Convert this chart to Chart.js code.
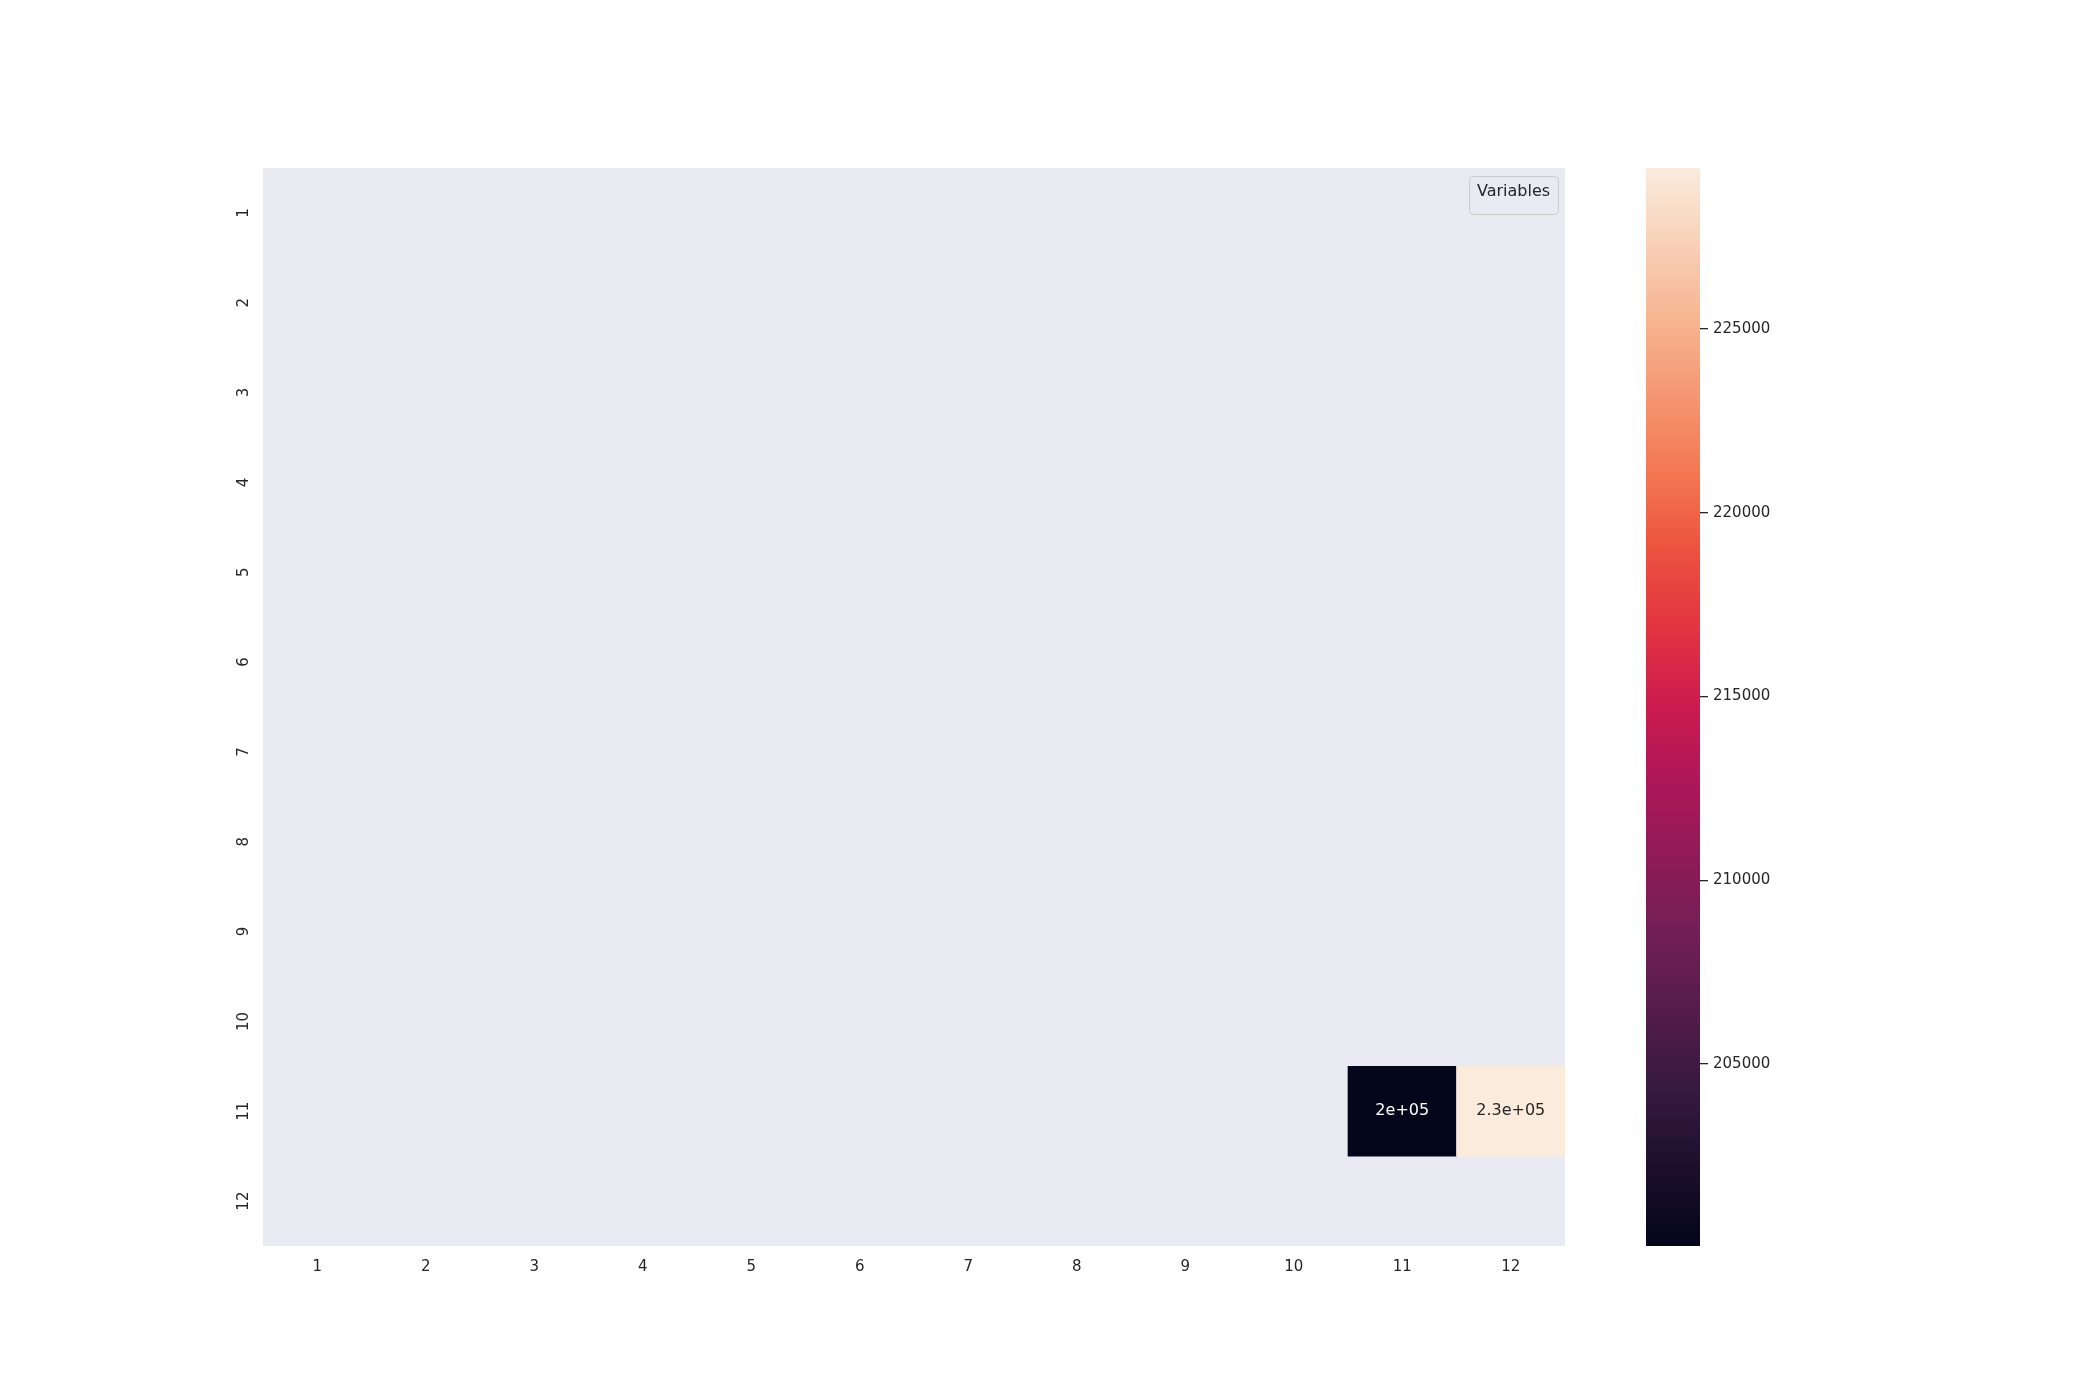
<!DOCTYPE html>
<html>
<head>
<meta charset="utf-8">
<script src="https://cdn.jsdelivr.net/npm/chart.js@4/dist/chart.umd.min.js"></script>
<style>
  html, body { margin: 0; padding: 0; background: #ffffff; }
  #wrap { position: relative; width: 2100px; height: 1400px; }
  #main { position: absolute; left: 0; top: 0; }
  #cbar { position: absolute; left: 1600px; top: 0; }
</style>
</head>
<body>
<div id="wrap">
  <canvas id="main" width="2100" height="1400"></canvas>
  <canvas id="cbar" width="300" height="1400"></canvas>
</div>
<script>
// ---- data ----
const colLabels = ['1','2','3','4','5','6','7','8','9','10','11','12'];
const rowLabels = ['1','2','3','4','5','6','7','8','9','10','11','12'];
const cellRows = ['11', '11'];
const cellCols = ['11', '12'];
const cellValues = [200050, 229380];
const colorbarTicks = [205000, 210000, 215000, 220000, 225000];
const legendTitle = 'Variables';

// ---- rocket colormap ----
const rocketStops = [
  [0.000, [3, 5, 26]],
  [0.143, [53, 25, 62]],
  [0.286, [112, 31, 87]],
  [0.429, [173, 23, 89]],
  [0.500, [203, 27, 79]],
  [0.571, [225, 51, 66]],
  [0.643, [236, 80, 63]],
  [0.714, [243, 118, 81]],
  [0.857, [246, 180, 143]],
  [1.000, [250, 235, 221]]
];
const vmin = Math.min(...cellValues);
const vmax = Math.max(...cellValues);
function rocket(t) {
  t = Math.max(0, Math.min(1, t));
  for (let i = 1; i < rocketStops.length; i++) {
    if (t <= rocketStops[i][0]) {
      const [t0, c0] = rocketStops[i - 1], [t1, c1] = rocketStops[i];
      const f = (t - t0) / (t1 - t0);
      return c0.map((v, k) => Math.round(v + (c1[k] - v) * f));
    }
  }
  return rocketStops[rocketStops.length - 1][1];
}
function colorFor(v) { const c = rocket((v - vmin) / (vmax - vmin)); return `rgb(${c[0]},${c[1]},${c[2]})`; }
function textColorFor(v) {
  const c = rocket((v - vmin) / (vmax - vmin));
  const lum = (0.2126 * c[0] + 0.7152 * c[1] + 0.0722 * c[2]) / 255;
  return lum > 0.408 ? '#262626' : '#ffffff';
}
function fmt2g(v) {
  const e = Math.floor(Math.log10(Math.abs(v)));
  if (e < -4 || e >= 2) {
    let m = (v / Math.pow(10, e)).toFixed(1);
    let ee = e;
    if (Math.abs(parseFloat(m)) >= 10) { m = (parseFloat(m) / 10).toFixed(1); ee += 1; }
    m = m.replace(/\.0$/, '');
    const sign = ee < 0 ? '-' : '+';
    const es = String(Math.abs(ee)).padStart(2, '0');
    return m + 'e' + sign + es;
  }
  return String(parseFloat(v.toPrecision(2)));
}

Chart.defaults.font.family = "'DejaVu Sans', sans-serif";
Chart.defaults.color = '#262626';

const cells = cellValues.map((v, i) => ({
  x: cellCols[i],
  y: [rowLabels.indexOf(cellRows[i]) + 0.5, rowLabels.indexOf(cellRows[i]) + 1.5],
  v: v
}));

const bgPlugin = {
  id: 'bg',
  beforeDatasetsDraw(chart) {
    const a = chart.chartArea, ctx = chart.ctx;
    ctx.save();
    ctx.fillStyle = '#EAEAF2';
    ctx.fillRect(a.left, a.top, a.right - a.left, a.bottom - a.top);
    ctx.restore();
  }
};
const annotPlugin = {
  id: 'annot',
  afterDatasetsDraw(chart) {
    const ctx = chart.ctx;
    const meta = chart.getDatasetMeta(0);
    ctx.save();
    ctx.font = "16px 'DejaVu Sans', sans-serif";
    ctx.textAlign = 'center';
    ctx.textBaseline = 'middle';
    meta.data.forEach((el, i) => {
      const v = chart.data.datasets[0].data[i].v;
      const p = el.getCenterPoint();
      ctx.fillStyle = textColorFor(v);
      ctx.fillText(fmt2g(v), p.x, p.y);
    });
    ctx.restore();
  }
};
const legendPlugin = {
  id: 'legendBox',
  afterDraw(chart) {
    const a = chart.chartArea, ctx = chart.ctx;
    const w = 89, h = 38;
    const x = a.right - 7 - w, y = a.top + 8;
    ctx.save();
    ctx.beginPath();
    ctx.roundRect(x + 0.5, y + 0.5, w, h, 4);
    ctx.fillStyle = 'rgba(234,234,242,0.8)';
    ctx.fill();
    ctx.strokeStyle = '#CCCCCC';
    ctx.lineWidth = 1;
    ctx.stroke();
    ctx.font = "16px 'DejaVu Sans', sans-serif";
    ctx.fillStyle = '#262626';
    ctx.textAlign = 'center';
    ctx.textBaseline = 'alphabetic';
    ctx.fillText(legendTitle, x + w / 2, y + 20);
    ctx.restore();
  }
};

new Chart(document.getElementById('main'), {
  type: 'bar',
  data: {
    labels: colLabels,
    datasets: [{
      data: cells,
      backgroundColor: ctx => colorFor(ctx.raw ? ctx.raw.v : vmin),
      borderWidth: 0,
      categoryPercentage: 1,
      barPercentage: 1
    }]
  },
  options: {
    responsive: false,
    animation: false,
    devicePixelRatio: 1,
    layout: { padding: { top: 168, right: 535, left: 0, bottom: 0 } },
    plugins: { legend: { display: false }, tooltip: { enabled: false } },
    scales: {
      x: {
        type: 'category',
        grid: { display: false },
        border: { display: false },
        ticks: { font: { size: 15 }, color: '#262626', padding: 4, maxRotation: 0, minRotation: 0 },
        afterFit: s => { s.height = 154; }
      },
      y: {
        type: 'linear',
        min: 0.5,
        max: 12.5,
        reverse: true,
        grid: { display: false },
        border: { display: false },
        afterBuildTicks: s => { s.ticks = rowLabels.map((l, i) => ({ value: i + 1 })); },
        ticks: {
          font: { size: 15 },
          color: '#262626',
          minRotation: 90,
          maxRotation: 90,
          crossAlign: 'center',
          padding: 1,
          callback: (v, i) => rowLabels[i]
        },
        afterFit: s => { s.width = 263; }
      }
    }
  },
  plugins: [bgPlugin, annotPlugin, legendPlugin]
});

// ---- colorbar ----
new Chart(document.getElementById('cbar'), {
  type: 'bar',
  data: {
    labels: [''],
    datasets: [{
      data: [[vmin, vmax]],
      backgroundColor: (c) => {
        const a = c.chart.chartArea;
        if (!a) return '#000';
        const g = c.chart.ctx.createLinearGradient(0, a.bottom, 0, a.top);
        rocketStops.forEach(s => g.addColorStop(s[0], `rgb(${s[1][0]},${s[1][1]},${s[1][2]})`));
        return g;
      },
      borderWidth: 0,
      categoryPercentage: 1,
      barPercentage: 1
    }]
  },
  options: {
    responsive: false,
    animation: false,
    devicePixelRatio: 1,
    layout: { padding: { top: 168, bottom: 154, left: 46, right: 0 } },
    plugins: { legend: { display: false }, tooltip: { enabled: false } },
    scales: {
      x: { display: false },
      y: {
        type: 'linear',
        position: 'right',
        min: vmin,
        max: vmax,
        afterBuildTicks: s => { s.ticks = colorbarTicks.map(v => ({ value: v })); },
        grid: { display: true, drawOnChartArea: false, drawTicks: true, tickLength: 8, color: '#262626', lineWidth: 1.3 },
        border: { display: false },
        ticks: { font: { size: 15 }, color: '#262626', padding: 5, callback: v => String(v) },
        afterFit: s => { s.width = 200; }
      }
    }
  }
});
</script>
</body>
</html>
